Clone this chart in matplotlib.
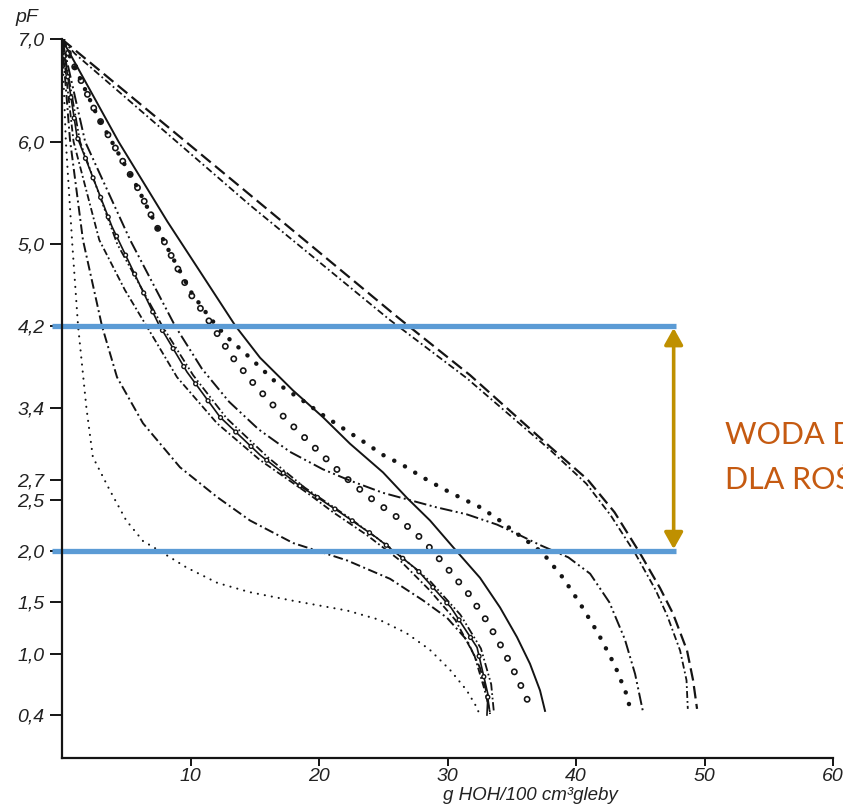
import numpy as np
import matplotlib.pyplot as plt
from matplotlib.patches import FancyArrowPatch

plt.rcParams['lines.scale_dashes'] = False
plt.rcParams['font.family'] = ['Liberation Sans', 'DejaVu Sans']

# water retention curves: x = g HOH / 100 cm3, y = pF
x_a  = [0, 0.3, 0.8, 1.25, 1.9, 2.4, 3.7, 5.0, 6.3, 7.9, 9.7, 12.1, 14.6, 17.8, 22.2, 24.7, 26.8, 28.6, 30.2, 31.5, 32.3, 32.5]
pf_a = [7.0, 6.0, 5.0, 4.2, 3.4, 2.92, 2.6, 2.3, 2.1, 1.98, 1.84, 1.69, 1.6, 1.52, 1.42, 1.33, 1.2, 1.04, 0.84, 0.64, 0.47, 0.4]

x_b  = [0, 0.62, 1.63, 3.11, 4.28, 6.3, 9.18, 12.06, 14.63, 17.98, 22.18, 25.53, 28.09, 29.96, 31.52, 32.53, 33.07, 33.31]
pf_b = [7.0, 6.02, 5.04, 4.2, 3.7, 3.25, 2.82, 2.53, 2.3, 2.08, 1.91, 1.73, 1.52, 1.35, 1.13, 0.86, 0.61, 0.41]

x_c1  = [0, 1.17, 3.89, 5.68, 7.47, 9.73, 12.3, 15.41, 18.37, 21.63, 24.51, 27.63, 30.27, 32.3, 33.15, 33.07]
pf_c1 = [7.0, 6.05, 5.17, 4.7, 4.23, 3.75, 3.31, 2.94, 2.65, 2.38, 2.13, 1.82, 1.45, 1.06, 0.6, 0.4]

x_c2  = [0, 1.4, 4.3, 7.8, 10.2, 12.8, 16.0, 18.9, 22.2, 25.9, 28.7, 31.0, 32.6, 33.4, 33.6]
pf_c2 = [7.0, 6.0, 5.0, 4.2, 3.72, 3.3, 2.92, 2.62, 2.34, 2.0, 1.7, 1.38, 1.05, 0.7, 0.44]

x_c3  = [0, 0.9, 2.9, 4.9, 7.1, 8.95, 12.06, 15.41, 19.3, 21.1, 23.7, 26.3, 28.6, 30.6, 32.1, 32.9, 33.3]
pf_c3 = [7.0, 6.0, 5.04, 4.55, 4.09, 3.7, 3.25, 2.89, 2.55, 2.38, 2.16, 1.91, 1.62, 1.33, 0.98, 0.64, 0.43]

x_d  = [0, 2.72, 5.84, 8.17, 9.96, 11.28, 13.23, 15.02, 17.35, 19.84, 21.87, 23.89, 25.99, 28.09, 29.88, 31.6, 33.15, 34.32, 35.41, 36.5]
pf_d = [7.0, 6.26, 5.56, 4.97, 4.52, 4.28, 3.9, 3.62, 3.3, 2.99, 2.74, 2.53, 2.34, 2.11, 1.85, 1.59, 1.3, 1.04, 0.77, 0.47]

x_e  = [0, 2.72, 5.84, 8.17, 10.1, 11.5, 12.68, 14.63, 16.73, 18.75, 20.3, 21.87, 23.58, 24.98, 26.54, 28.09, 29.65, 31.21, 32.53, 33.85, 35.1, 36.19, 37.43, 38.99, 40.31, 41.71, 43.04, 43.97, 44.28]
pf_e = [7.0, 6.26, 5.56, 4.97, 4.52, 4.28, 4.11, 3.89, 3.64, 3.47, 3.33, 3.2, 3.06, 2.94, 2.84, 2.72, 2.61, 2.51, 2.43, 2.32, 2.2, 2.1, 1.98, 1.74, 1.49, 1.2, 0.88, 0.59, 0.42]

x_f  = [0, 4.4, 8.2, 10.8, 13.5, 15.41, 17.98, 20.3, 22.41, 24.98, 26.85, 28.64, 30.43, 32.53, 34.09, 35.41, 36.42, 37.2, 37.59]
pf_f = [7.0, 6.0, 5.22, 4.72, 4.2, 3.89, 3.57, 3.31, 3.05, 2.77, 2.52, 2.3, 2.04, 1.74, 1.45, 1.16, 0.9, 0.64, 0.44]

x_g  = [0, 1.8, 5.3, 8.8, 10.9, 13.0, 15.3, 17.75, 20.3, 22.41, 24.98, 29.1, 31.5, 33.85, 35.4, 37.2, 39.4, 41.1, 42.6, 43.8, 44.6, 45.2]
pf_g = [7.0, 6.0, 5.04, 4.2, 3.78, 3.46, 3.19, 2.97, 2.8, 2.69, 2.57, 2.43, 2.36, 2.26, 2.17, 2.06, 1.94, 1.78, 1.5, 1.14, 0.8, 0.44]

x_h  = [0, 13.0, 26.07, 31.75, 37.98, 40.9, 43.0, 44.98, 46.54, 47.55, 48.64, 49.11, 49.42]
pf_h = [7.0, 5.65, 4.29, 3.72, 3.02, 2.7, 2.38, 1.98, 1.64, 1.39, 1.03, 0.74, 0.46]

x_i  = [0, 1.0, 14.63, 25.5, 31.5, 37.98, 40.8, 42.7, 44.6, 46.2, 47.1, 48.1, 48.6, 48.7]
pf_i = [7.0, 6.86, 5.38, 4.26, 3.69, 2.99, 2.66, 2.35, 1.98, 1.62, 1.37, 1.03, 0.74, 0.46]

yticks = [7.0, 6.0, 5.0, 4.2, 3.4, 2.7, 2.5, 2.0, 1.5, 1.0, 0.4]
ytick_labels = ["7,0", "6,0", "5,0", "4,2", "3,4", "2,7", "2,5", "2,0", "1,5", "1,0", "0,4"]
xticks = [10, 20, 30, 40, 50, 60]

band_top = 4.2
band_bottom = 2.0
band_x = [-0.78, 47.8]
arrow_x = 47.6

ink = '#141414'

fig = plt.figure(figsize=(8.43, 8.05), dpi=100)
ax = fig.add_axes([62/843, 47/805, 771/843, 718.7/805])

ax.plot(x_a, pf_a, color=ink, lw=1.5, ls=(0, (0.1, 5.0)), dash_capstyle='round')
ax.plot(x_b, pf_b, color=ink, lw=1.4, ls=(0, (7, 2.5, 1.4, 2.5)))
ax.plot(x_c3, pf_c3, color=ink, lw=1.3, ls=(0, (5, 2, 1.3, 2)))
ax.plot(x_c2, pf_c2, color=ink, lw=1.3, ls=(0, (6, 2, 1.2, 2, 1.2, 2)))
# solid line with small open circles
ax.plot(x_c1, pf_c1, color=ink, lw=1.2)
ax.plot(x_c1, pf_c1, color=ink, lw=3.8, ls=(3, (0.1, 15)), dash_capstyle='round')
ax.plot(x_c1, pf_c1, color='white', lw=1.8, ls=(3, (0.1, 15)), dash_capstyle='round')
# open circles
ax.plot(x_d, pf_d, color=ink, lw=5.0, ls=(0, (0.1, 10.8)), dash_capstyle='round')
ax.plot(x_d, pf_d, color='white', lw=2.6, ls=(0, (0.1, 10.8)), dash_capstyle='round')
# heavy dots
ax.plot(x_e, pf_e, color=ink, lw=3.2, ls=(4, (0.1, 8.6)), dash_capstyle='round')
ax.plot(x_f, pf_f, color=ink, lw=1.4)
ax.plot(x_g, pf_g, color=ink, lw=1.4, ls=(0, (9, 2.5, 1.4, 2.5, 1.4, 2.5)))
ax.plot(x_h, pf_h, color=ink, lw=1.6, ls=(0, (9, 4)))
ax.plot(x_i, pf_i, color=ink, lw=1.3, ls=(0, (5, 2.2, 1.3, 2.2)))

ax.set_xlim(0, 60)
ax.set_ylim(-0.02, 7.0)
ax.spines['top'].set_visible(False)
ax.spines['right'].set_visible(False)
ax.spines['left'].set_linewidth(1.6)
ax.spines['bottom'].set_linewidth(1.6)
ax.spines['left'].set_color(ink)
ax.spines['bottom'].set_color(ink)

ax.set_yticks(yticks)
ax.set_yticklabels(ytick_labels, fontsize=14, style='italic', color='#222222')
ax.set_xticks(xticks)
ax.set_xticklabels([str(t) for t in xticks], fontsize=14, style='italic', color='#222222')
ax.tick_params(axis='y', length=9, width=1.4, pad=3.5, color=ink)
ax.tick_params(axis='x', length=6, width=1.4, pad=1.5, color=ink)

# plant available water band
for lvl in [band_top, band_bottom]:
    ax.plot(band_x, [lvl, lvl], color='#5B9BD5', lw=3.8, solid_capstyle='butt', clip_on=False)

arr = FancyArrowPatch((arrow_x, band_bottom + 0.02), (arrow_x, band_top - 0.02),
                      arrowstyle='<|-|>,head_length=0.5,head_width=0.28', mutation_scale=20,
                      color='#BF9000', lw=2.6, shrinkA=0, shrinkB=0)
ax.add_patch(arr)

fig.text(15/843, 1 - 22/805, "pF", fontsize=14, style='italic', color='#222222', va='baseline')
fig.text(443/843, 1 - 800/805, "g HOH/100 cm³gleby", fontsize=13.5, style='italic',
         color='#222222', va='baseline', ha='left')

fig.text(725/843, 1 - 444/805, "WODA DOSTĘPNA", family='Lato', fontsize=22, color='#C55A11', va='baseline')
fig.text(725/843, 1 - 489/805, "DLA ROŚLIN", family='Lato', fontsize=22, color='#C55A11', va='baseline')

fig.savefig("out.png", dpi=100)
